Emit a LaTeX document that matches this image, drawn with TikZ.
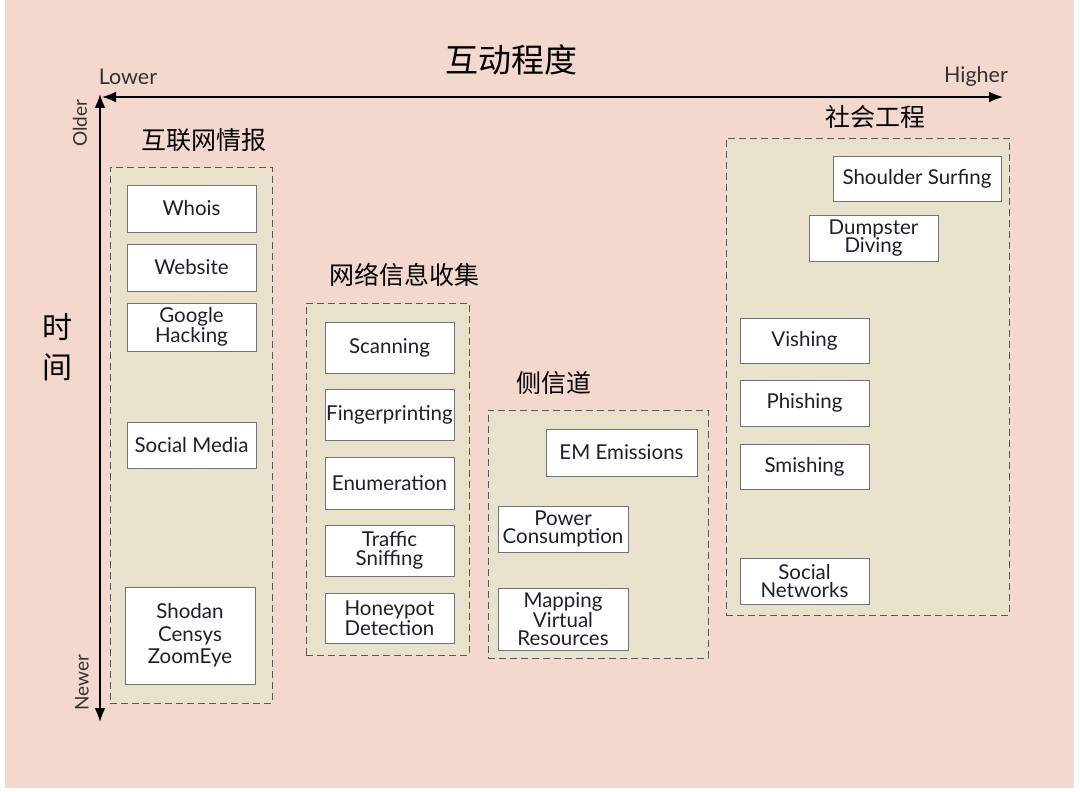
\documentclass[tikz,border=0pt]{standalone}
\usepackage{fontspec}
\setmainfont{Lato}
\newfontfamily\cjk{Noto Sans CJK SC}
\usetikzlibrary{arrows.meta}
\definecolor{bgpink}{RGB}{244,216,206}
\definecolor{groupfill}{RGB}{232,226,204}
\definecolor{textnavy}{RGB}{30,30,48}

\begin{document}
\begin{tikzpicture}[x=1pt,y=-1pt,
    item/.style={draw=black!55, fill=white, line width=0.8pt, text=textnavy,
        align=center, inner sep=0pt, minimum width=129pt, minimum height=47pt,
        font=\fontsize{20.5}{18.5}\selectfont},
    group/.style={draw=black!65, dash pattern=on 7pt off 4pt, fill=groupfill,
        line width=0.9pt, inner sep=0pt},
    grouptitle/.style={font=\cjk\fontsize{25}{25}\selectfont},
    axislabel/.style={text=black!80, font=\fontsize{21.5}{21.5}\selectfont},
    sidelabel/.style={text=black!80, rotate=90, font=\fontsize{19}{19}\selectfont},
    axis/.style={line width=1.6pt,
        {Latex[length=14pt,width=11pt]}-{Latex[length=14pt,width=11pt]}}
]
    \useasboundingbox (0,0) rectangle (1080,792);
    \fill[bgpink] (5,0) rectangle (1074,788);

    % axes
    \coordinate (xstart) at (102,97);
    \coordinate (xend) at (1003,97);
    \coordinate (ystart) at (100,94);
    \coordinate (yend) at (100,722);
    \draw[axis] (xstart) -- (xend);
    \draw[axis] (ystart) -- (yend);

    \node[font=\cjk\fontsize{33}{33}\selectfont] (title) at (511,60) {互动程度};
    \node[axislabel] (lower) at (128,77) {Lower};
    \node[axislabel] (higher) at (976,77) {Higher};
    \node[sidelabel] (older) at (80,123) {Older};
    \node[sidelabel] (newer) at (82,683) {Newer};
    \node[font=\cjk\fontsize{30}{40}\selectfont, align=center] (time) at (57,347) {时\\间};

    % groups
    \node[group, minimum width=162pt, minimum height=536pt] (osint) at (191,435) {};
    \node[group, minimum width=163pt, minimum height=352pt] (netrecon) at (387.5,479) {};
    \node[group, minimum width=220pt, minimum height=248pt] (sidechan) at (598,534) {};
    \node[group, minimum width=283pt, minimum height=477pt] (socialeng) at (867.5,376.5) {};

    \node[grouptitle] (osinttitle) at (204,140) {互联网情报};
    \node[grouptitle] (netrecontitle) at (404,275) {网络信息收集};
    \node[grouptitle] (sidechantitle) at (554,383) {侧信道};
    \node[grouptitle] (socialengtitle) at (875,117) {社会工程};

    % internet intelligence
    \node[item] (whois) at (191.5,208.5) {Whois};
    \node[item] (website) at (191.5,267.5) {Website};
    \node[item, minimum height=48pt] (google) at (191.5,327) {Google\\Hacking};
    \node[item, minimum height=46pt] (socialmedia) at (191.5,445) {Social Media};
    \node[item, minimum width=130pt, minimum height=97pt,
        font=\fontsize{20.5}{22.5}\selectfont] (shodan) at (190,635.5) {Shodan\\Censys\\ZoomEye};

    % network recon
    \node[item, minimum height=51pt] (scanning) at (389.5,347.5) {Scanning};
    \node[item, minimum height=51pt] (fingerprint) at (389.5,414.5) {Fingerprinting};
    \node[item, minimum height=52pt] (enum) at (389.5,483) {Enumeration};
    \node[item, minimum height=51pt] (sniffing) at (389.5,550.5) {Traffic\\Sniffing};
    \node[item, minimum height=50pt] (honeypot) at (389.5,618) {Honeypot\\Detection};

    % side channel
    \node[item, minimum width=151pt] (emission) at (621.5,452.5) {EM Emissions};
    \node[item, minimum width=130pt, minimum height=46pt] (power) at (563,529) {Power\\Consumption};
    \node[item, minimum width=130pt, minimum height=62pt] (mapping) at (563,619) {Mapping\\Virtual\\Resources};

    % social engineering
    \node[item, minimum width=168pt, minimum height=45pt] (shoulder) at (917,178.5) {Shoulder Surfing};
    \node[item, minimum height=46pt] (dumpster) at (873.5,238) {Dumpster\\Diving};
    \node[item, minimum height=45pt] (vishing) at (804.5,340.5) {Vishing};
    \node[item, minimum height=46pt] (phishing) at (804.5,403) {Phishing};
    \node[item, minimum height=45pt] (smishing) at (804.5,466.5) {Smishing};
    \node[item, minimum height=46pt] (socialnet) at (804.5,581) {Social\\Networks};
\end{tikzpicture}
\end{document}
